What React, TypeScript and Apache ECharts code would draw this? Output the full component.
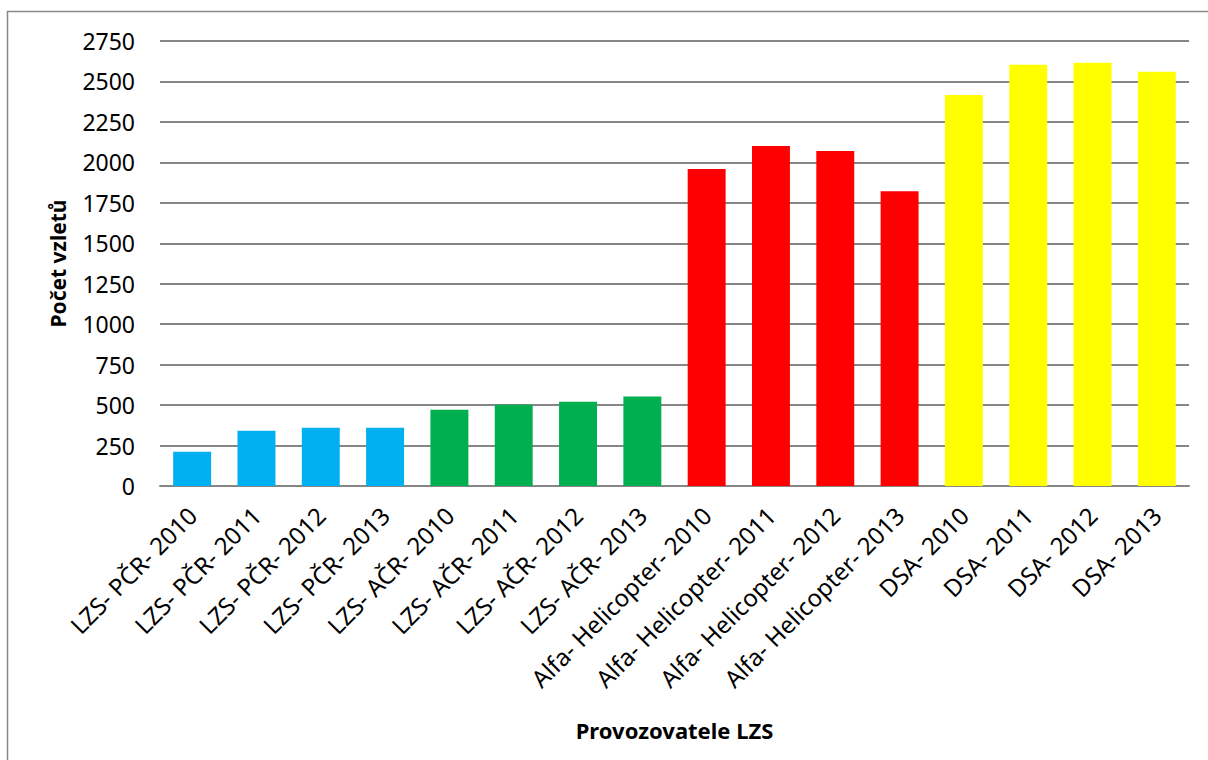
import React, { useEffect, useRef } from "react";
import * as echarts from "echarts";

const categories = [
  "LZS- PČR- 2010", "LZS- PČR- 2011", "LZS- PČR- 2012", "LZS- PČR- 2013",
  "LZS- AČR- 2010", "LZS- AČR- 2011", "LZS- AČR- 2012", "LZS- AČR- 2013",
  "Alfa- Helicopter- 2010", "Alfa- Helicopter- 2011", "Alfa- Helicopter- 2012", "Alfa- Helicopter- 2013",
  "DSA- 2010", "DSA- 2011", "DSA- 2012", "DSA- 2013",
];
const values = [212, 341, 360, 360, 471, 502, 520, 553, 1959, 2101, 2070, 1822, 2417, 2604, 2616, 2560];
const groupColors = ["#00B0F0", "#00B050", "#FF0000", "#FFFF00"];
const yAxisTitle = "Počet vzletů";
const xAxisTitle = "Provozovatele LZS";

const FONT = "'Noto Sans', 'Open Sans', sans-serif";

export default function App() {
  const ref = useRef<HTMLDivElement>(null);
  useEffect(() => {
    if (!ref.current) return;
    const chart = echarts.init(ref.current, null, { renderer: "svg" });
    chart.setOption({
      animation: false,
      backgroundColor: "#ffffff",
      grid: { left: 160, right: 19, top: 41, bottom: 274 },
      xAxis: {
        type: "category",
        data: categories,
        axisLine: { lineStyle: { color: "#868686", width: 2 } },
        axisTick: { show: false },
        axisLabel: {
          rotate: 45,
          margin: 25,
          interval: 0,
          color: "#000",
          fontSize: 24,
          fontFamily: FONT,
        },
        name: xAxisTitle,
        nameLocation: "middle",
        nameGap: 233,
        nameTextStyle: { color: "#000", fontSize: 22, fontWeight: "bold", fontFamily: FONT },
      },
      yAxis: {
        type: "value",
        min: 0,
        max: 2750,
        interval: 250,
        axisLine: { show: false },
        axisTick: { show: false },
        splitLine: { lineStyle: { color: "#868686", width: 2 } },
        axisLabel: {
          color: "#000",
          fontSize: 23,
          fontFamily: FONT,
          margin: 25,
          formatter: (v: number) => String(v),
        },
        name: yAxisTitle,
        nameLocation: "middle",
        nameGap: 92,
        nameTextStyle: { color: "#000", fontSize: 21, fontWeight: "bold", fontFamily: FONT },
      },
      series: [
        {
          type: "bar",
          barWidth: "59%",
          data: values.map((v, i) => ({
            value: v,
            itemStyle: { color: groupColors[Math.floor(i / 4)] },
          })),
        },
      ],
      graphic: [
        {
          type: "rect",
          shape: { x: 7.5, y: 11.5, width: 1220, height: 780 },
          style: { fill: "none", stroke: "#888888", lineWidth: 1.5 },
          silent: true,
        },
      ],
    });
    return () => chart.dispose();
  }, []);
  return (
    <div
      ref={ref}
      style={{ position: "fixed", left: 0, top: 0, width: 1208, height: 760 }}
    />
  );
}
